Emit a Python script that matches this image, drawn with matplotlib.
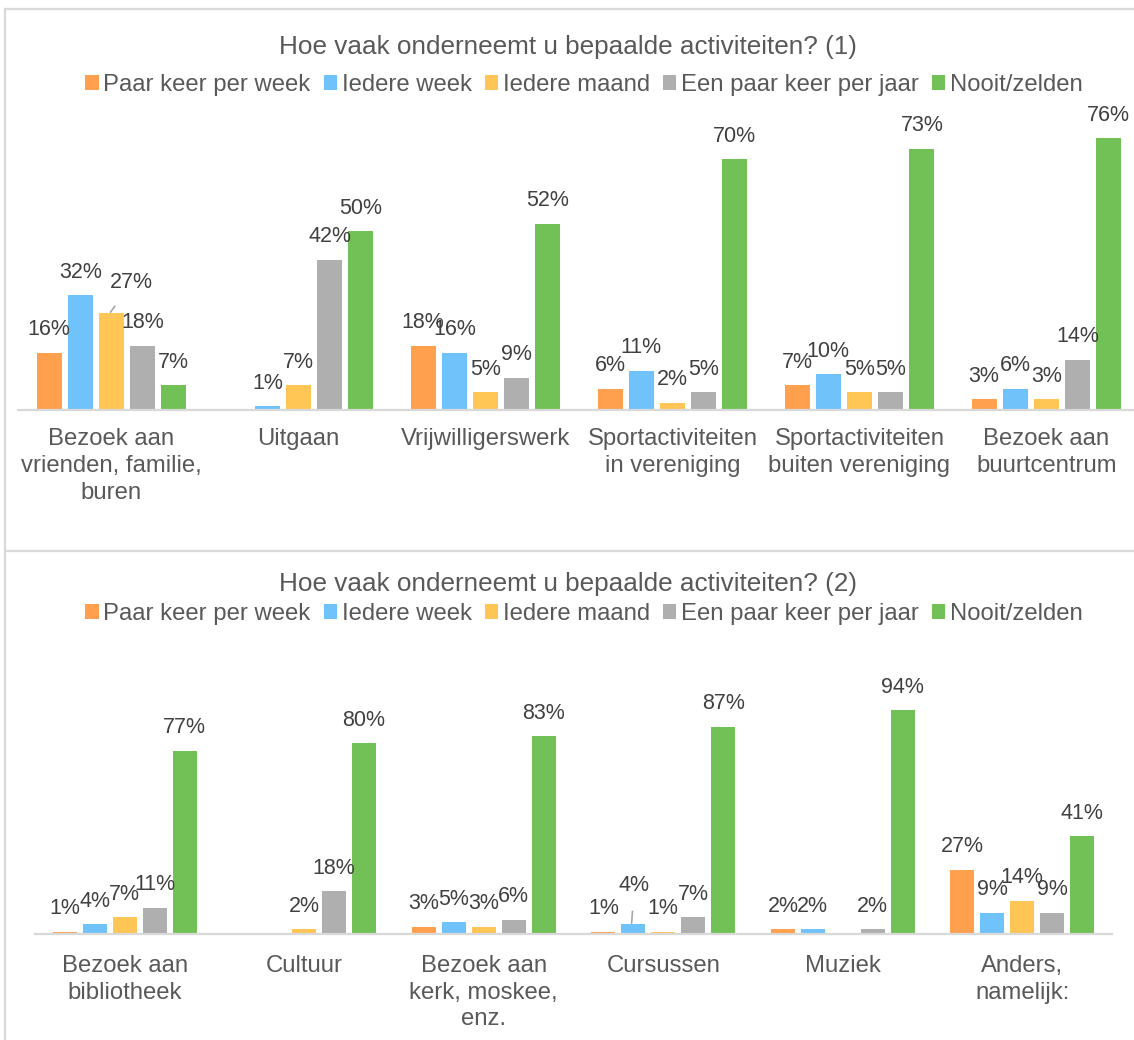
import matplotlib
matplotlib.use("Agg")
import matplotlib.pyplot as plt
import numpy as np
from matplotlib.patches import Patch
from matplotlib.lines import Line2D

plt.rcParams['font.family'] = ['Liberation Sans', 'DejaVu Sans']

series = ['Paar keer per week', 'Iedere week', 'Iedere maand', 'Een paar keer per jaar', 'Nooit/zelden']
colors = ['#FFA04F', '#6FC2FA', '#FFC555', '#AFAFAF', '#71C156']

# chart 1
cats_1 = ['Bezoek aan\nvrienden, familie,\nburen', 'Uitgaan', 'Vrijwilligerswerk',
          'Sportactiviteiten\nin vereniging', 'Sportactiviteiten\nbuiten vereniging',
          'Bezoek aan\nbuurtcentrum']
paar_1 = [16, 0, 18, 6, 7, 3]
week_1 = [32, 1, 16, 11, 10, 6]
maand_1 = [27, 7, 5, 2, 5, 3]
jaar_1 = [18, 42, 9, 5, 5, 14]
nooit_1 = [7, 50, 52, 70, 73, 76]

# chart 2
cats_2 = ['Bezoek aan\nbibliotheek', 'Cultuur', 'Bezoek aan\nkerk, moskee,\nenz.', 'Cursussen',
          'Muziek', 'Anders,\nnamelijk:']
paar_2 = [1, 0, 3, 1, 2, 27]
week_2 = [4, 0, 5, 4, 2, 9]
maand_2 = [7, 2, 3, 1, 0, 14]
jaar_2 = [11, 18, 6, 7, 2, 9]
nooit_2 = [77, 80, 83, 87, 94, 41]

W, H = 1134, 1040
fig = plt.figure(figsize=(W / 100, H / 100), dpi=100)

txt_col = '#595959'
lab_col = '#404040'
frame_col = '#D9D9D9'


def px(x, y):
    return x / W, 1 - y / H


def draw_chart(rect, cats, values, ymax, title, title_y, legend_y, callouts, pad):
    ax = fig.add_axes(rect)
    n = len(cats)
    x = np.arange(n)
    step = 1 / 6
    for j, vals in enumerate(values):
        xs = x + (j - 2) * step
        for i, v in enumerate(vals):
            if v == 0:
                continue
            ax.bar(xs[i], v, width=step * 0.8, color=colors[j], linewidth=0)
            if (i, j) in callouts:
                dx, dy = callouts[(i, j)]
                ax.annotate(f'{v}%', (xs[i] - 0.01, v), xytext=(dx, dy), textcoords='offset points',
                            ha='center', va='center', fontsize=15.5, color=lab_col,
                            arrowprops=dict(arrowstyle='-', color='#A6A6A6', lw=1.2,
                                            shrinkA=9, shrinkB=1))
            else:
                ax.annotate(f'{v}%', (xs[i], v), xytext=(0, 16.5), textcoords='offset points',
                            ha='center', va='center', fontsize=15.5, color=lab_col)
    ax.set_xlim(-0.5, n - 0.5)
    ax.set_ylim(0, ymax)
    ax.set_xticks(x)
    ax.set_xticklabels(cats, fontsize=17.2, color=txt_col, linespacing=1.28)
    ax.tick_params(axis='x', length=0, pad=pad)
    ax.set_yticks([])
    for s in ['top', 'left', 'right']:
        ax.spines[s].set_visible(False)
    ax.spines['bottom'].set_color(frame_col)
    ax.spines['bottom'].set_linewidth(1.6)
    ax.patch.set_alpha(0)

    fig.text(*px(568, title_y), title, ha='center', va='center', fontsize=18.8, color=txt_col)
    handles = [Patch(facecolor=c, edgecolor='none') for c in colors]
    fig.legend(handles, series, loc='center', bbox_to_anchor=px(584, legend_y), ncol=5,
               frameon=False, fontsize=17.2, labelcolor=txt_col, handlelength=0.55,
               handleheight=0.55, handletextpad=0.2, columnspacing=0.55, borderpad=0)
    return ax


# top chart: axis from x=18 to 1140 px, baseline at y=410, 3.58 px per %
draw_chart([18 / W, 1 - 410 / H, 1122 / W, 80 * 3.58 / H], cats_1,
           [paar_1, week_1, maand_1, jaar_1, nooit_1], 80,
           'Hoe vaak onderneemt u bepaalde activiteiten? (1)', 47, 85,
           {(0, 2): (16, 22)}, 13)

# bottom chart: axis from x=35 to 1112 px, baseline at y=934, 2.383 px per %
draw_chart([35 / W, 1 - 934 / H, 1077 / W, 100 * 2.383 / H], cats_2,
           [paar_2, week_2, maand_2, jaar_2, nooit_2], 100,
           'Hoe vaak onderneemt u bepaalde activiteiten? (2)', 584, 614,
           {(3, 1): (2, 28)}, 15)

# chart frames
for (x0, y0, x1, y1) in [(5, 9, W, 9), (5, 9, 5, H), (5, 551, W, 551)]:
    fig.add_artist(Line2D([x0 / W, x1 / W], [1 - y0 / H, 1 - y1 / H], color=frame_col, lw=1.6))

fig.savefig('out.png', dpi=100)
